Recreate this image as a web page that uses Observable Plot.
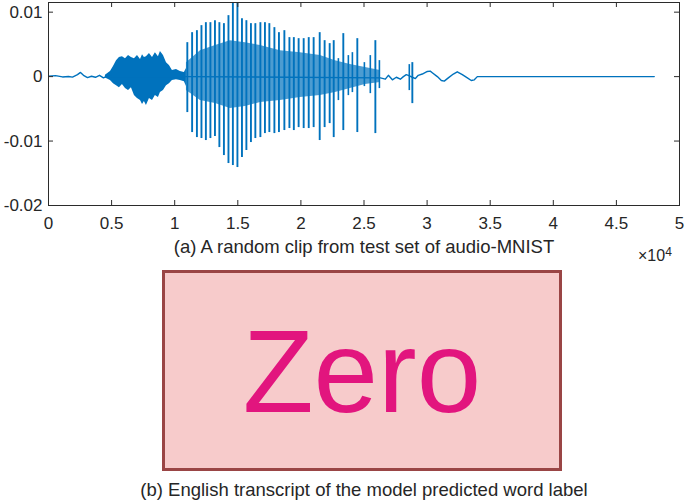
<!DOCTYPE html>
<html><head><meta charset="utf-8">
<script src="https://cdn.jsdelivr.net/npm/d3@7"></script>
<script src="https://cdn.jsdelivr.net/npm/@observablehq/plot@0.6"></script>
<style>
html,body{margin:0;padding:0;background:#fff;}
body{width:685px;height:503px;position:relative;overflow:hidden;font-family:"Liberation Sans",Arial,Helvetica,sans-serif;color:#262626;}
#chart{position:absolute;left:0;top:0;}
.cap{position:absolute;left:0;width:728px;text-align:center;font-size:18.5px;line-height:18px;white-space:nowrap;}
#capA{top:238px;}
#capB{top:481px;}
#exp{position:absolute;left:638px;top:248px;font-size:16px;line-height:16px;white-space:nowrap;}
#exp sup{font-size:12px;position:relative;top:-4px;vertical-align:top;}
#box{position:absolute;left:162px;top:270px;width:400px;height:201px;box-sizing:border-box;border:3px solid #9a4545;background:#f7cbcb;display:flex;align-items:center;justify-content:center;}
#word{font-size:116px;line-height:1;color:#e2157e;position:relative;top:1px;}
</style></head>
<body>
<div id="chart"></div>
<div class="cap" id="capA">(a) A random clip from test set of audio-MNIST</div>
<div id="exp">×10<sup>4</sup></div>
<div id="box"><span id="word">Zero</span></div>
<div class="cap" id="capB">(b) English transcript of the model predicted word label</div>
<script>
// ---- axis ticks ----
const xTicks = [0, 5000, 10000, 15000, 20000, 25000, 30000, 35000, 40000, 45000, 50000];
const yTicks = [-0.02, -0.01, 0, 0.01];

// ---- main glottal spikes (sample index, peak, trough) ----
const spikeX = [11000, 11380, 11760, 12120, 12470, 12830, 13190, 13540, 13900, 14260, 14610, 14970, 15330, 15680, 16040, 16390, 16790, 17150, 17500, 17900, 18260, 18690, 19090, 19440, 19820, 20220, 20620, 21010, 21490, 21880, 22280, 22600, 23360, 24470, 25900, 28830];
const spikeTop = [0.00527, 0.00682, 0.00713, 0.00791, 0.00837, 0.00837, 0.00868, 0.00837, 0.00822, 0.00946, 0.0118, 0.0117, 0.00899, 0.00868, 0.00822, 0.00822, 0.00837, 0.00837, 0.00822, 0.0076, 0.00682, 0.00713, 0.00605, 0.00605, 0.00589, 0.00589, 0.00605, 0.00605, 0.00682, 0.00558, 0.00512, 0.00558, 0.00667, 0.00589, 0.00558, 0.00217];
const spikeBottom = [-0.00558, -0.00868, -0.00946, -0.00961, -0.00992, -0.00961, -0.0093, -0.01101, -0.01225, -0.01349, -0.0138, -0.01411, -0.01256, -0.01147, -0.01023, -0.00961, -0.00946, -0.00884, -0.00868, -0.00884, -0.00868, -0.00837, -0.00806, -0.00837, -0.00791, -0.00806, -0.00806, -0.00791, -0.00992, -0.00791, -0.00729, -0.00946, -0.00837, -0.00868, -0.00884, -0.00419];

// ---- smaller secondary spikes ----
const minorX = [22970, 23760, 24080, 25030, 25500, 26220, 28590];
const minorTop = [0.00279, 0.00326, 0.00372, 0.00217, 0.00326, 0.00248, 0.00186];
const minorBottom = [-0.00372, -0.00295, -0.00248, -0.00155, -0.00264, -0.00186, -0.00217];

// ---- unvoiced burst envelope ----
const burstX = [4510, 4910, 5150, 5390, 5620, 5860, 6100, 6340, 6570, 6810, 7050, 7290, 7450, 7600, 7760, 8000, 8240, 8470, 8710, 8870, 9110, 9350, 9580, 9820, 10140, 10450, 10770, 10930];
const burstTop = [0.00023, 0.00078, 0.00155, 0.00248, 0.00295, 0.0031, 0.00279, 0.00326, 0.00295, 0.00279, 0.00326, 0.00264, 0.00341, 0.00295, 0.0031, 0.00357, 0.00295, 0.00372, 0.0031, 0.00388, 0.00326, 0.00217, 0.00171, 0.00093, 0.00109, 0.00078, 0.00062, 0.00124];
const burstBottom = [-0.00023, -0.00062, -0.00109, -0.0014, -0.00171, -0.00124, -0.00186, -0.00217, -0.00171, -0.00295, -0.00341, -0.00372, -0.00434, -0.00388, -0.0045, -0.00341, -0.00372, -0.00295, -0.00326, -0.00248, -0.00217, -0.0014, -0.00109, -0.00062, -0.00047, -0.00062, -0.00078, -0.00155];

// ---- dense oscillation band between spikes ----
const bandX = [10930, 12040, 13230, 14410, 15600, 16790, 18370, 19960, 21540, 22730, 23920, 25110, 26290];
const bandTop = [0.00217, 0.00403, 0.00481, 0.00558, 0.00527, 0.00481, 0.00403, 0.00372, 0.00326, 0.00248, 0.00186, 0.0014, 0.00093];
const bandBottom = [-0.00217, -0.00372, -0.00419, -0.00496, -0.00465, -0.00403, -0.00372, -0.00326, -0.00295, -0.00248, -0.00186, -0.00124, -0.00093];

// ---- low-level trace (silence, tail) ----
const traceX = [0, 554, 1109, 1584, 1901, 2297, 2534, 2772, 3089, 3406, 3722, 4039, 4356, 4673, 5000, 10900, 26300, 26690, 26930, 27250, 27560, 27880, 28120, 28350, 28510, 28830, 29070, 29300, 29620, 30020, 30250, 30410, 30810, 31130, 31360, 31680, 32080, 32390, 32790, 33190, 33500, 33740, 33980, 48000];
const traceY = [0.00008, 0.00015, -0.00005, 0.00002, -0.00008, 0.0003, 0.00065, 0.0002, -0.00015, 0.00005, -0.0001, 0.0002, -0.0002, 0.0001, 0, 0, -0.0002, -0.0004, 0.0002, -0.0005, -0.0001, -0.0004, 0, 0.0003, 0.0002, -0.0001, -0.0003, 0.0002, 0.0004, 0.0008, 0.00085, 0.0006, 0, -0.0006, -0.0007, -0.0002, 0.0004, 0.00075, 0.0003, -0.0002, -0.0006, -0.0005, 0, 0];

const blue = "#0072BD";
const axisColor = "#2b2b2b";

const spikes = spikeX.map((x, i) => ({x, top: spikeTop[i], bottom: spikeBottom[i]}));
const minors = minorX.map((x, i) => ({x, top: minorTop[i], bottom: minorBottom[i]}));
const burst = burstX.map((x, i) => ({x, top: burstTop[i], bottom: burstBottom[i]}));
const band = bandX.map((x, i) => ({x, top: bandTop[i], bottom: bandBottom[i]}));
const trace = traceX.map((x, i) => ({x, y: traceY[i]}));

const W = 685, H = 235, mL = 48, mR = 6, mT = 2, mB = 30;
const fw = W - mL - mR, fh = H - mT - mB, tk = 5;

const chart = Plot.plot({
  width: W, height: H,
  marginLeft: mL, marginRight: mR, marginTop: mT, marginBottom: mB,
  x: {domain: [0, 50000]},
  y: {domain: [-0.02, 0.0115]},
  style: {fontFamily: '"Liberation Sans", Arial, Helvetica, sans-serif', fontSize: "17px", color: "#262626", background: "transparent", overflow: "visible"},
  marks: [
    Plot.areaY(band, {x: "x", y1: "bottom", y2: "top", fill: blue, fillOpacity: 0.7, clip: true}),
    Plot.areaY(burst, {x: "x", y1: "bottom", y2: "top", fill: blue, clip: true}),
    Plot.line(trace, {x: "x", y: "y", stroke: blue, strokeWidth: 1.4, clip: true}),
    Plot.ruleX(minors, {x: "x", y1: "bottom", y2: "top", stroke: blue, strokeWidth: 1.6, clip: true}),
    Plot.ruleX(spikes, {x: "x", y1: "bottom", y2: "top", stroke: blue, strokeWidth: 1.9, clip: true}),
    Plot.frame({stroke: axisColor, strokeWidth: 1}),
    Plot.ruleX(xTicks, {stroke: axisColor, insetTop: fh - tk}),
    Plot.ruleX(xTicks, {stroke: axisColor, insetBottom: fh - tk}),
    Plot.ruleY(yTicks, {stroke: axisColor, insetRight: fw - tk}),
    Plot.ruleY(yTicks, {stroke: axisColor, insetLeft: fw - tk}),
    Plot.axisX(xTicks, {tickSize: 0, tickPadding: 11, tickFormat: d => String(d / 10000), fill: "#262626", label: null}),
    Plot.axisY(yTicks, {tickSize: 0, tickPadding: 6, tickFormat: d => String(d), fill: "#262626", label: null})
  ]
});
document.getElementById("chart").appendChild(chart);
</script>
</body></html>
